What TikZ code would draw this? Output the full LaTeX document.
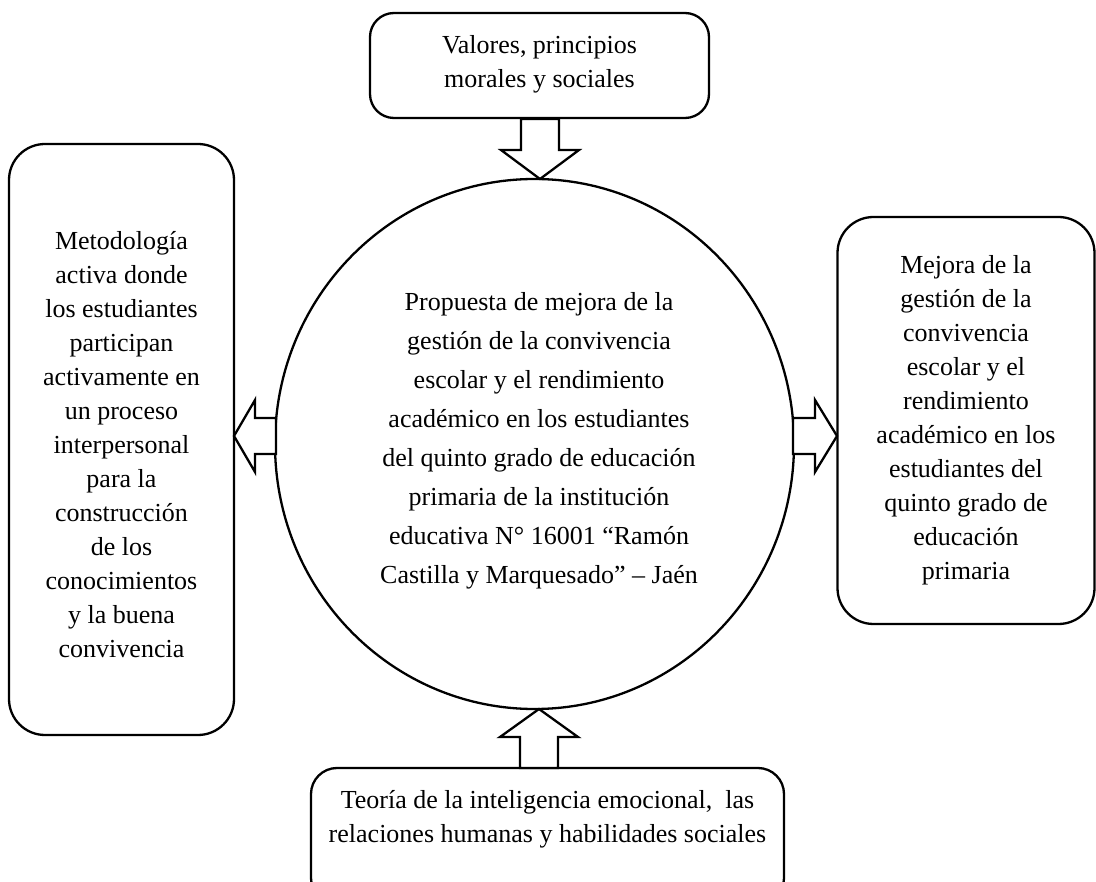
\documentclass[tikz,border=0pt]{standalone}
\usepackage{fontspec}
\setmainfont{Liberation Serif}
\usetikzlibrary{shapes.geometric}
\begin{document}
\begin{tikzpicture}[x=1pt,y=-1pt,
  box/.style={draw, line width=2.3pt, rounded corners=#1, inner sep=0pt},
  box/.default=36pt,
  txt/.style={align=center, inner sep=0pt, font=\fontsize{26}{34}\selectfont},
  ctxt/.style={align=center, inner sep=0pt, font=\fontsize{26}{39}\selectfont},
  barrow/.style={draw, line width=2.3pt, line join=miter, fill=white}]
\useasboundingbox (0,0) rectangle (1096,882);

% boxes
\node[box=24pt, minimum width=339pt, minimum height=105pt] (topbox) at (539.5,65.5) {};
\node[box, minimum width=225pt, minimum height=591pt] (leftbox) at (121.5,439.5) {};
\node[box, minimum width=257pt, minimum height=407pt] (rightbox) at (966,420.5) {};
\node[box=26pt, minimum width=473pt, minimum height=136pt] (botbox) at (547.5,836) {};

% central circle
\node[draw, ellipse, line width=2.3pt, minimum width=519pt, minimum height=530pt, inner sep=0pt] (circ) at (534.5,444) {};

% texts
\node[txt] (toptxt) at (539.5,64.5) {Valores, principios\\morales y sociales};
\node[txt] (lefttxt) at (121.5,445) {Metodología\\activa donde\\los estudiantes\\participan\\activamente en\\un proceso\\interpersonal\\para la\\construcción\\de los\\conocimientos\\y la buena\\convivencia};
\node[txt] (righttxt) at (966,420) {Mejora de la\\gestión de la\\convivencia\\escolar y el\\rendimiento\\académico en los\\estudiantes del\\quinto grado de\\educación\\primaria};
\node[txt] (bottxt) at (547.5,819) {Teoría de la inteligencia emocional,\ \ las\\relaciones humanas y habilidades sociales};
\node[ctxt] (ctxt) at (539,441) {Propuesta de mejora de la\\gestión de la convivencia\\escolar y el rendimiento\\académico en los estudiantes\\del quinto grado de educación\\primaria de la institución\\educativa N° 16001 “Ramón\\Castilla y Marquesado” – Jaén};

% block arrows
\draw[barrow] (521,119) -- (559,119) -- (559,150) -- (579,150) -- (540,179) -- (501,150) -- (521,150) -- cycle;
\draw[barrow] (520,768) -- (558,768) -- (558,737) -- (578,737) -- (539,709) -- (500,737) -- (520,737) -- cycle;
\draw[barrow] (276,418) -- (255,418) -- (255,400) -- (234,436) -- (255,472) -- (255,454) -- (276,454) -- cycle;
\draw[barrow] (793,418) -- (815,418) -- (815,400) -- (837,436) -- (815,472) -- (815,454) -- (793,454) -- cycle;
\end{tikzpicture}
\end{document}
